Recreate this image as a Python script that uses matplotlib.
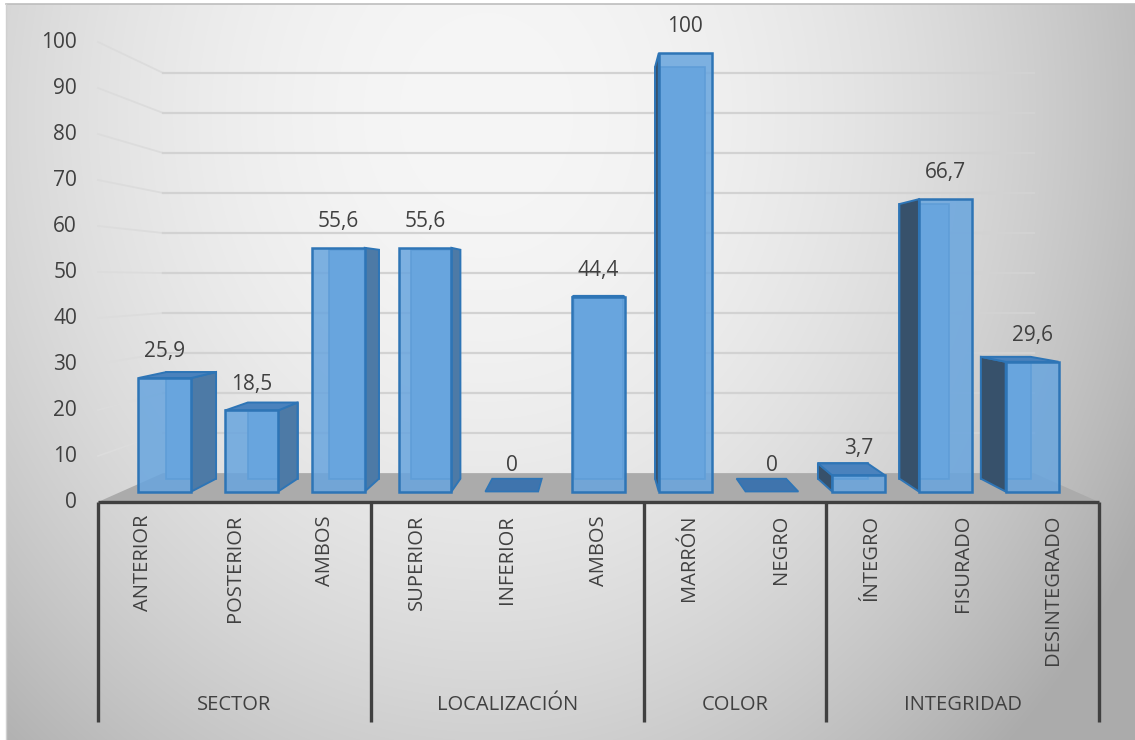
import numpy as np
import matplotlib
matplotlib.use("Agg")
from matplotlib import pyplot as plt
from matplotlib.patches import Polygon

plt.rcParams['font.family'] = ['Open Sans', 'DejaVu Sans']

# data
groups = ['SECTOR', 'LOCALIZACIÓN', 'COLOR', 'INTEGRIDAD']
group_sizes = [3, 3, 2, 3]
categories = ['ANTERIOR', 'POSTERIOR', 'AMBOS',
              'SUPERIOR', 'INFERIOR', 'AMBOS',
              'MARRÓN', 'NEGRO',
              'ÍNTEGRO', 'FISURADO', 'DESINTEGRADO']
values = [25.9, 18.5, 55.6, 55.6, 0, 44.4, 100, 0, 3.7, 66.7, 29.6]
yticks = list(range(0, 101, 10))

# figure geometry (pixels)
W, H = 1135, 740
X0, PX_U = 98, 91.0      # front category axis: u=0 at x=98, 91 px per category
Y0, PX_V = 502, 4.6      # front value axis: v=0 at y=502, 4.6 px per unit

# simple perspective: everything shrinks towards a vanishing point
VP = (5.495, 48.3)
S_FRONT, S_BAR_F, S_BAR_B, S_WALL = 1.0, 0.953, 0.895, 0.87
HALF = 0.305

FRONT_C = '#68a5de'
TOP_C = '#4a82bd'
SIDE_R = '#4d7aa6'
SIDE_L = '#37516b'
EDGE_C = '#2e75b6'
TEXT_C = '#404040'
FS = 15


def P(u, v, s):
    return (VP[0] + s * (u - VP[0]), VP[1] + s * (v - VP[1]))


def fmt(v):
    if float(v).is_integer():
        return str(int(v))
    return ('%.1f' % v).replace('.', ',')


fig = plt.figure(figsize=(W / 100, H / 100), dpi=100)
fig.patch.set_facecolor('white')

# background radial gradient
bg = fig.add_axes([6 / W, 0, 1 - 6 / W, 1 - 4 / H])
yy, xx = np.mgrid[0:H - 4, 0:W - 6]
r = np.sqrt(((xx - 480) / 650.0) ** 2 + ((yy - 110) / 760.0) ** 2)
g = 246 - 56 * np.clip(r, 0, 1.15) ** 2
img = np.dstack([g, g, g]) / 255.0
bg.imshow(np.clip(img, 0, 1), aspect='auto', interpolation='bilinear')
bg.set_axis_off()
fig.add_artist(plt.Line2D([6 / W, 1], [1 - 4 / H, 1 - 4 / H], color='#bdbdbd', lw=1.2))
fig.add_artist(plt.Line2D([6 / W, 6 / W], [0, 1 - 4 / H], color='#d0d0d0', lw=1.0))

ax = fig.add_axes([0, 0, 1, 1])
ax.set_xlim(-X0 / PX_U, (W - X0) / PX_U)
ax.set_ylim(-(H - Y0) / PX_V, Y0 / PX_V)
ax.patch.set_alpha(0)
ax.set_axis_off()

n = len(categories)

# floor
floor = [P(0, 0, S_FRONT), P(n, 0, S_FRONT), P(n, 0, S_WALL), P(0, 0, S_WALL)]
ax.add_patch(Polygon(floor, closed=True, facecolor='#ababab', edgecolor='none', zorder=1))

# gridlines on left wall and back wall
for t in yticks[1:]:
    a, b, c = P(0, t, S_FRONT), P(0, t, S_WALL), P(n, t, S_WALL)
    ax.plot([a[0], b[0]], [a[1], b[1]], color='#dcdcdc', lw=1.3, zorder=1)
    ax.plot([b[0], c[0]], [b[1], c[1]], color='#d2d2d2', lw=1.6, zorder=1)

# bars
for i, val in enumerate(values):
    uc = i + 0.5
    l, rr = uc - HALF, uc + HALF
    if val == 0:
        lid = [P(l, 0, S_BAR_F), P(rr, 0, S_BAR_F), P(rr, 0, S_BAR_B), P(l, 0, S_BAR_B)]
        ax.add_patch(Polygon(lid, closed=True, facecolor='#3f74ad', edgecolor=EDGE_C,
                             lw=1.2, zorder=4))
    else:
        back = [P(l, 0, S_BAR_B), P(rr, 0, S_BAR_B), P(rr, val, S_BAR_B), P(l, val, S_BAR_B)]
        ax.add_patch(Polygon(back, closed=True, facecolor=FRONT_C, edgecolor=EDGE_C,
                             lw=1.2, zorder=3))
        if rr < VP[0]:
            side = [P(rr, 0, S_BAR_F), P(rr, 0, S_BAR_B), P(rr, val, S_BAR_B), P(rr, val, S_BAR_F)]
            ax.add_patch(Polygon(side, closed=True, facecolor=SIDE_R, edgecolor=EDGE_C,
                                 lw=1.4, zorder=4))
        elif l > VP[0]:
            side = [P(l, 0, S_BAR_F), P(l, 0, S_BAR_B), P(l, val, S_BAR_B), P(l, val, S_BAR_F)]
            ax.add_patch(Polygon(side, closed=True, facecolor=SIDE_L, edgecolor=EDGE_C,
                                 lw=1.4, zorder=4))
        if val < VP[1]:
            top = [P(l, val, S_BAR_F), P(rr, val, S_BAR_F), P(rr, val, S_BAR_B), P(l, val, S_BAR_B)]
            ax.add_patch(Polygon(top, closed=True, facecolor=TOP_C, edgecolor=EDGE_C,
                                 lw=1.4, zorder=4))
        front = [P(l, 0, S_BAR_F), P(rr, 0, S_BAR_F), P(rr, val, S_BAR_F), P(l, val, S_BAR_F)]
        ax.add_patch(Polygon(front, closed=True, facecolor=FRONT_C, alpha=0.85,
                             edgecolor='none', zorder=5))
        ax.add_patch(Polygon(front, closed=True, facecolor='none', edgecolor=EDGE_C,
                             lw=1.8, zorder=6))
    ax.annotate(fmt(val), xy=P(uc, val, S_BAR_F), xytext=(0, 19), textcoords='offset points',
                ha='center', va='center', fontsize=FS, color=TEXT_C, zorder=7)

# value axis labels
for t in yticks:
    ax.text(-0.23, t, str(t), ha='right', va='center', fontsize=FS, color=TEXT_C)

# category axis with grouped labels
bottom = -(722 - Y0) / PX_V
ax.plot([0, n], [0, 0], color='#404040', lw=2.4, zorder=6, solid_capstyle='butt')
bounds = np.concatenate([[0], np.cumsum(group_sizes)])
for b in bounds:
    ax.plot([b, b], [0, bottom], color='#404040', lw=2.4, zorder=6, solid_capstyle='butt')
for i, name in enumerate(categories):
    ax.text(i + 0.5, -2.8, name, rotation=90, ha='center', va='top',
            fontsize=FS - 0.5, color=TEXT_C)
for k, gname in enumerate(groups):
    ax.text((bounds[k] + bounds[k + 1]) / 2, -(705 - Y0) / PX_V, gname,
            ha='center', va='center', fontsize=FS - 0.5, color=TEXT_C)

fig.savefig('out.png', dpi=100)
